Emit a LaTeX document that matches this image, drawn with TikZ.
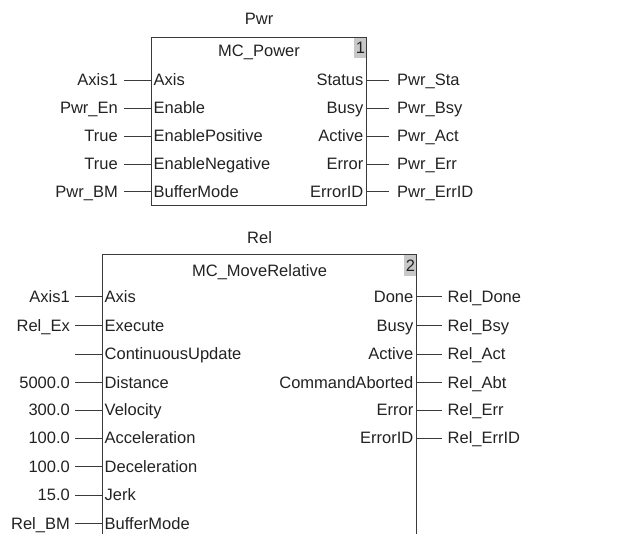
\documentclass[tikz,border=0pt]{standalone}
\usepackage{fontspec}
\setmainfont{Liberation Sans}
\usetikzlibrary{positioning}
\definecolor{LineDark}{HTML}{3A3A3A}
\definecolor{TextDark}{HTML}{222222}
\definecolor{IdxGray}{HTML}{C8C8C8}

\begin{document}
\begin{tikzpicture}[x=1pt,y=-1pt,
    every node/.style={font=\fontsize{16.5}{18}\selectfont, text=TextDark},
    fbox/.style={draw=LineDark, line width=1.1pt, anchor=north west, inner sep=0pt},
    txt/.style={inner xsep=2.5pt, inner ysep=0pt, text height=12pt, text depth=0pt},
    pinl/.style={txt, anchor=west},
    pinr/.style={txt, anchor=east},
    extl/.style={txt, inner xsep=6pt},
    extr/.style={txt, inner xsep=8pt},
    idx/.style={fill=IdxGray, anchor=north east, inner sep=0pt,
      minimum width=12pt, minimum height=20.5pt},
    wire/.style={draw=LineDark, line width=0.9pt}]
  \useasboundingbox (0,0) rectangle (622,534);
  \clip (0,0) rectangle (622,534);

  % MC_Power block
  \node[fbox, minimum width=215pt, minimum height=168pt] (pwr) at (151,37) {};
  \node[txt, above=12pt of pwr.north] (pwrinst) {Pwr};
  \node[txt, below=7pt of pwr.north] (pwrname) {MC\_Power};
  \node[idx] (pwridx) at ([xshift=-0.55pt,yshift=-0.55pt]pwr.north east) {1};

  \node[pinl] (paxis) at (151,80) {Axis};
  \node[pinl] (pen)   at (151,108) {Enable};
  \node[pinl] (penp)  at (151,136) {EnablePositive};
  \node[pinl] (penn)  at (151,164) {EnableNegative};
  \node[pinl] (pbm)   at (151,191.5) {BufferMode};
  \node[pinr] (psta)  at (366,80) {Status};
  \node[pinr] (pbsy)  at (366,108) {Busy};
  \node[pinr] (pact)  at (366,136) {Active};
  \node[pinr] (perr)  at (366,164) {Error};
  \node[pinr] (peid)  at (366,191.5) {ErrorID};

  \node[extl, left=27pt of paxis] (vpaxis) {Axis1};
  \node[extl, left=27pt of pen]   (vpen)   {Pwr\_En};
  \node[extl, left=27pt of penp]  (vpenp)  {True};
  \node[extl, left=27pt of penn]  (vpenn)  {True};
  \node[extl, left=27pt of pbm]   (vpbm)   {Pwr\_BM};
  \node[extr, right=23pt of psta] (vpsta)  {Pwr\_Sta};
  \node[extr, right=23pt of pbsy] (vpbsy)  {Pwr\_Bsy};
  \node[extr, right=23pt of pact] (vpact)  {Pwr\_Act};
  \node[extr, right=23pt of perr] (vperr)  {Pwr\_Err};
  \node[extr, right=23pt of peid] (vpeid)  {Pwr\_ErrID};

  \draw[wire] (vpaxis.east) -- (paxis.west); \draw[wire] (vpen.east) -- (pen.west);
  \draw[wire] (vpenp.east) -- (penp.west); \draw[wire] (vpenn.east) -- (penn.west);
  \draw[wire] (vpbm.east) -- (pbm.west);
  \draw[wire] (psta.east) -- (vpsta.west); \draw[wire] (pbsy.east) -- (vpbsy.west);
  \draw[wire] (pact.east) -- (vpact.west); \draw[wire] (perr.east) -- (vperr.west);
  \draw[wire] (peid.east) -- (vpeid.west);

  % MC_MoveRelative block
  \node[fbox, minimum width=314pt, minimum height=300pt] (rel) at (102,254.3) {};
  \node[txt, above=10.3pt of rel.north] (relinst) {Rel};
  \node[txt, below=10.4pt of rel.north] (relname) {MC\_MoveRelative};
  \node[idx] (relidx) at ([xshift=-0.55pt,yshift=-0.55pt]rel.north east) {2};

  \node[pinl] (raxis) at (102,296.7) {Axis};
  \node[pinl] (rex)   at (102,325.5) {Execute};
  \node[pinl] (rcu)   at (102,354) {ContinuousUpdate};
  \node[pinl] (rdist) at (102,382.5) {Distance};
  \node[pinl] (rvel)  at (102,410) {Velocity};
  \node[pinl] (racc)  at (102,438) {Acceleration};
  \node[pinl] (rdec)  at (102,466.5) {Deceleration};
  \node[pinl] (rjerk) at (102,495) {Jerk};
  \node[pinl] (rbm)   at (102,523.3) {BufferMode};
  \node[pinr] (rdone) at (416,296.7) {Done};
  \node[pinr] (rbsy)  at (416,325.5) {Busy};
  \node[pinr] (ract)  at (416,354) {Active};
  \node[pinr] (rabt)  at (416,382.5) {CommandAborted};
  \node[pinr] (rerr)  at (416,410) {Error};
  \node[pinr] (reid)  at (416,438) {ErrorID};

  \node[extl, inner xsep=5pt, left=27pt of raxis] (vraxis) {Axis1};
  \node[extl, inner xsep=5pt, left=27pt of rex]   (vrex)   {Rel\_Ex};
  \coordinate[left=27pt of rcu] (vrcu);
  \node[extl, inner xsep=5pt, left=27pt of rdist] (vrdist) {5000.0};
  \node[extl, inner xsep=5pt, left=27pt of rvel]  (vrvel)  {300.0};
  \node[extl, inner xsep=5pt, left=27pt of racc]  (vracc)  {100.0};
  \node[extl, inner xsep=5pt, left=27pt of rdec]  (vrdec)  {100.0};
  \node[extl, inner xsep=5pt, left=27pt of rjerk] (vrjerk) {15.0};
  \node[extl, inner xsep=5pt, left=27pt of rbm]   (vrbm)   {Rel\_BM};
  \node[extr, inner xsep=5.5pt, right=26pt of rdone] (vrdone) {Rel\_Done};
  \node[extr, inner xsep=5.5pt, right=26pt of rbsy]  (vrbsy)  {Rel\_Bsy};
  \node[extr, inner xsep=5.5pt, right=26pt of ract]  (vract)  {Rel\_Act};
  \node[extr, inner xsep=5.5pt, right=26pt of rabt]  (vrabt)  {Rel\_Abt};
  \node[extr, inner xsep=5.5pt, right=26pt of rerr]  (vrerr)  {Rel\_Err};
  \node[extr, inner xsep=5.5pt, right=26pt of reid]  (vreid)  {Rel\_ErrID};

  \draw[wire] (vraxis.east) -- (raxis.west); \draw[wire] (vrex.east) -- (rex.west);
  \draw[wire] (vrcu) -- (rcu.west); \draw[wire] (vrdist.east) -- (rdist.west);
  \draw[wire] (vrvel.east) -- (rvel.west); \draw[wire] (vracc.east) -- (racc.west);
  \draw[wire] (vrdec.east) -- (rdec.west); \draw[wire] (vrjerk.east) -- (rjerk.west);
  \draw[wire] (vrbm.east) -- (rbm.west);
  \draw[wire] (rdone.east) -- (vrdone.west); \draw[wire] (rbsy.east) -- (vrbsy.west);
  \draw[wire] (ract.east) -- (vract.west); \draw[wire] (rabt.east) -- (vrabt.west);
  \draw[wire] (rerr.east) -- (vrerr.west); \draw[wire] (reid.east) -- (vreid.west);
\end{tikzpicture}
\end{document}
